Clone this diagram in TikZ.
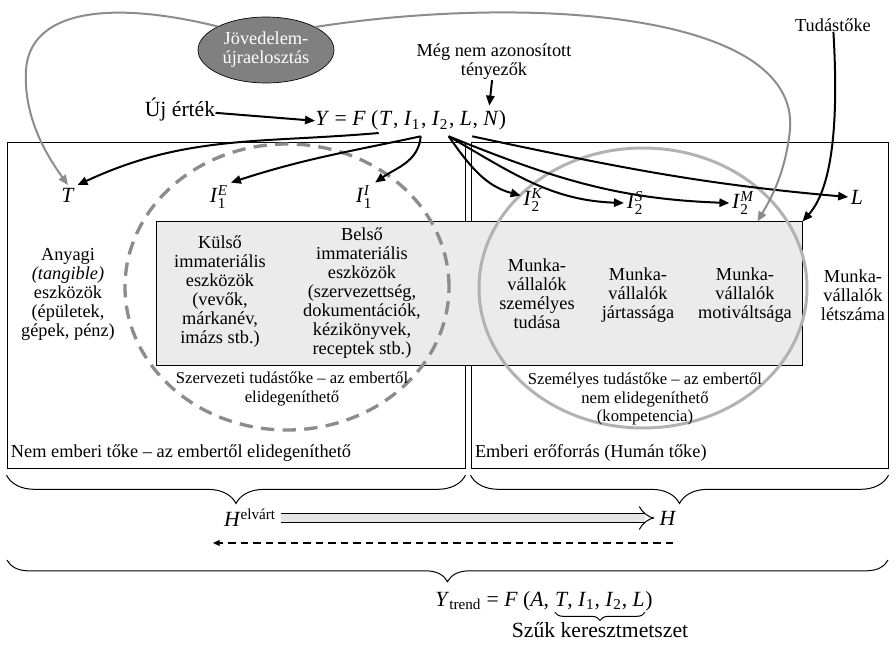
\documentclass[tikz,border=0pt]{standalone}
\usepackage{amsmath}
\usepackage{fontspec}
\setmainfont{Liberation Serif}
\usetikzlibrary{arrows.meta,positioning,fit,calc,shapes.geometric,decorations.pathreplacing}
\tikzset{
  side/.style={draw, line width=0.6pt, inner sep=0pt},
  graybox/.style={draw, fill=black!8, line width=0.6pt, inner sep=0pt},
  body/.style={align=center, inner sep=0pt, font=\fontsize{11}{11.4}\selectfont},
  capt/.style={align=center, inner sep=0pt, font=\fontsize{10}{11}\selectfont},
  big/.style={inner sep=0pt, font=\fontsize{13}{15}\selectfont},
  sym/.style={big, inner sep=1.5pt},
  arr/.style={-{Triangle[length=6pt,width=5pt]}, line width=1.2pt},
  garr/.style={arr, draw=black!45},
  fatarr/.style={double=black!10, double distance=4.5pt, line width=0.6pt, -{Implies[scale=1.6]}, shorten <=3pt, shorten >=3pt},
  dasharr/.style={-{Triangle[length=4pt,width=3.5pt]}, line width=0.8pt, dash pattern=on 4.5pt off 3pt},
  brace/.style={decorate, decoration={brace, mirror, amplitude=#1}, line width=0.6pt},
  ring/.style={line width=1.8pt, draw=black!30},
  dashring/.style={line width=2pt, draw=black!45, dash pattern=on 8pt off 5pt},
  blob/.style={ellipse, draw, fill=black!50, text=white, align=center, font=\fontsize{11}{11.4}\selectfont, minimum width=81.6pt, minimum height=39.6pt, inner sep=0pt}
}
\begin{document}
\begin{tikzpicture}[x=0.6pt, y=-0.6pt]
  \useasboundingbox (0,0) rectangle (896,648);
  % two halves and the grey band
  \node[side, fit={(7,143) (465,468)}] (nonhum) {};
  \node[side, fit={(471,143) (888,468)}] (hum) {};
  \node[graybox, fit={(156,222) (802,365)}] (ibox) {};
  \draw[dashring] (287,287) ellipse [x radius=97.2pt, y radius=85.8pt];
  \draw[ring] (643,288) ellipse [x radius=98.4pt, y radius=84pt];
  % factors
  \node[sym] (T) at (68,195) {\textit{T}};
  \node[sym] (I1E) at (219,197) {\textit{I}$^{\textit{E}}_{\text{1}}$};
  \node[sym] (I1I) at (364,197) {\textit{I}$^{\textit{I}}_{\text{1}}$};
  \node[sym] (I2K) at (533,200) {\textit{I}$^{\textit{K}}_{\text{2}}$};
  \node[sym] (I2S) at (635,203) {\textit{I}$^{\textit{S}}_{\text{2}}$};
  \node[sym] (I2M) at (743,203) {\textit{I}$^{\textit{M}}_{\text{2}}$};
  \node[sym] (L) at (857,197) {\textit{L}};
  \node[body] (anyagi) at (68,294) {Anyagi\\\textit{(tangible)}\\eszközök\\(épületek,\\gépek, pénz)};
  \node[body] (kulso) at (220,292) {Külső\\immateriális\\eszközök\\(vevők,\\márkanév,\\imázs stb.)};
  \node[body] (belso) at (362,293) {Belső\\immateriális\\eszközök\\(szervezettség,\\dokumentációk,\\kézikönyvek,\\receptek stb.)};
  \node[body] (tudasa) at (537,294) {Munka-\\vállalók\\személyes\\tudása};
  \node[body] (jartas) at (638,295) {Munka-\\vállalók\\jártassága};
  \node[body] (motiv) at (745,295) {Munka-\\vállalók\\motiváltsága};
  \node[body] (letszam) at (853,295) {Munka-\\vállalók\\létszáma};
  \node[capt] (szerv) at (292,389) {Szervezeti tudástőke – az embertől\\elidegeníthető};
  \node[capt] (szem) at (645,399) {Személyes tudástőke – az embertől\\nem elidegeníthető\\(kompetencia)};
  \node[body, anchor=south west] (nonlbl) at ([shift={(2.5pt,4pt)}]nonhum.south west) {Nem emberi tőke – az embertől elidegeníthető};
  \node[body, anchor=south west] (humlbl) at ([shift={(2.5pt,4pt)}]hum.south west) {Emberi erőforrás (Humán tőke)};
  % top row
  \node[blob] (jov) at (266,50) {Jövedelem-\\újraelosztás};
  \node[body] (meg) at (494,62) {Még nem azonosított\\tényezők};
  \node[body] (tud) at (833,25) {Tudástőke};
  \node[big, anchor=base] (uj) at (180,117) {Új érték};
  \node[big, anchor=base west] (fY) at (315,126) {\textit{Y} = \textit{F} (};
  \node[big, anchor=base west] (fT) at (fY.base east) {\textit{T}};
  \node[big, anchor=base west] (fI1) at (fT.base east) {, \textit{I}$_{\text{1}}$};
  \node[big, anchor=base west] (fI2) at (fI1.base east) {, \textit{I}$_{\text{2}}$};
  \node[big, anchor=base west] (fL) at (fI2.base east) {, \textit{L}};
  \node[big, anchor=base west] (fN) at (fL.base east) {, \textit{N})};
  \draw[arr] (uj) -- (fY.west);
  \draw[arr] (meg) -- ([yshift=3pt]fN.north);
  \draw[arr] ([yshift=-4pt]fT.south west) to[out=185, in=25] (T.north east);
  \draw[arr] ([yshift=-4pt]fI1.south east) to[out=192, in=18] (I1E.north east);
  \draw[arr] ([yshift=-4pt]fI1.south east) to[out=-95, in=35] (I1I.north east);
  \draw[arr] ([yshift=-4pt]fI2.south east) to[out=-55, in=165] (I2K.160);
  \draw[arr] ([yshift=-4pt]fI2.south east) to[out=-30, in=178] (I2S.west);
  \draw[arr] ([yshift=-4pt]fI2.south east) to[out=-22, in=178] (I2M.west);
  \draw[arr] ([yshift=-4pt]fL.south east) to[out=-12, in=175] (L.west);
  \draw[garr] (jov.154) .. controls (110,0) and (30,10) .. (26,70) .. controls (23,120) and (50,160) .. (T.north);
  \draw[garr] (jov.25) .. controls (520,-5) and (800,10) .. (790,130) .. controls (785,175) and (770,200) .. ([xshift=-27pt]ibox.north east);
  \draw[arr] (tud) .. controls (838,110) and (835,185) .. (ibox.north east);
  % braces and the bottom line
  \draw[brace=17pt] ([yshift=-4pt]nonhum.south west) -- ([yshift=-4pt]nonhum.south east);
  \draw[brace=17pt] ([yshift=-4pt]hum.south west) -- ([yshift=-4pt]hum.south east);
  \node[big] (helv) at (250,518) {\textit{H}$^{\text{elvárt}}$};
  \node[big] (hnode) at (668,518) {\textit{H}};
  \draw[fatarr] (helv.east |- hnode) -- (hnode.west);
  \coordinate (dR) at (673,543);
  \coordinate (dL) at (213,543);
  \draw[dasharr] (dR) -- (dL);
  \coordinate (allL) at (7,560);
  \coordinate (allR) at (888,560);
  \draw[brace=13pt] (allL) -- (allR);
  \node[big, anchor=base west] (tY) at (435,606) {\textit{Y}$_{\text{trend}}$ = \textit{F} (\textit{A},};
  \node[big, anchor=base west] (tS) at ([xshift=3.3pt]tY.base east) {\textit{T}, \textit{I}$_{\text{1}}$, \textit{I}$_{\text{2}}$, \textit{L}};
  \node[big, anchor=base west] (tE) at (tS.base east) {)};
  \draw[brace=5pt] ([yshift=-1.5pt]tS.south west) -- ([yshift=-1.5pt]tS.south east);
  \node[big, anchor=north] (szuk) at ([yshift=-7.5pt]tS.south) {Szűk keresztmetszet};
\end{tikzpicture}
\end{document}
